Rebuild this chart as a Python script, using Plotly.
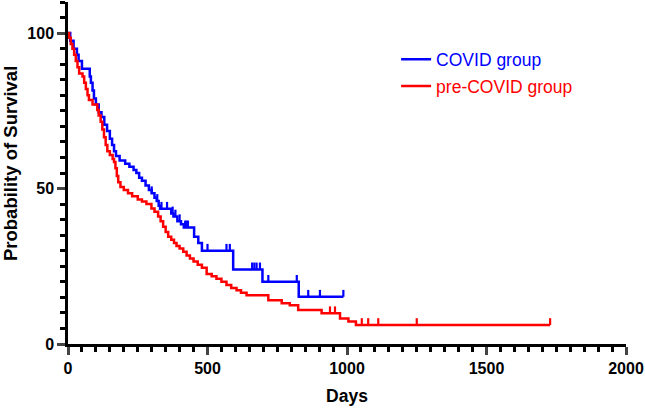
import plotly.graph_objects as go

# ---- data ----
covid_time = [0, 8, 20, 32, 38, 50, 78, 82, 88, 93, 100, 110, 120, 130, 140, 150, 158, 165, 172, 185,
              205, 220, 235, 245, 255, 265, 278, 290, 300, 310, 318, 325, 330, 370, 378, 392, 405, 415,
              452, 467, 480, 592, 697, 827]
covid_surv = [100, 97.5, 95, 93, 91, 88.5, 86, 84, 81.5, 79, 77, 74.5, 73, 70.5, 68.5, 66, 64, 62, 60.5, 59,
              58, 57, 56, 55, 53.5, 52.5, 51, 49.5, 48.5, 47, 46, 44.5, 43.5, 42, 41, 39.5, 38.5, 37.5,
              34.5, 32.5, 30, 24, 20, 15.2]
covid_end = 987
covid_censor = [300, 320, 335, 355, 375, 385, 400, 420, 425, 430, 500, 568, 580, 660, 668, 676, 688,
                718, 820, 861, 903, 987]

pre_time = [0, 4, 10, 16, 22, 28, 34, 40, 52, 58, 64, 70, 75, 88, 105, 110, 117, 123, 129, 135, 141, 150,
            160, 165, 170, 175, 180, 188, 200, 215, 230, 250, 265, 281, 299, 310, 323, 332, 341, 350, 359,
            370, 380, 389, 400, 413, 425, 437, 450, 465, 480, 497, 515, 532, 550, 568, 585, 604, 620, 640,
            718, 766, 795, 825, 909, 975, 1005, 1032]
pre_surv = [100, 98.5, 96.5, 95, 93, 91, 89, 87, 86, 84, 82, 80, 78.5, 77, 75.3, 73.5, 71.5, 69, 66.5, 64,
            62, 60.8, 59.5, 58.5, 56.5, 54, 52, 50.5, 49.5, 48.5, 47.5, 46.5, 45.8, 45, 43.6, 42.5, 41, 39.5,
            37.7, 36, 34.5, 33.5, 32.5, 31.5, 30.7, 29.7, 28.5, 27.5, 26.5, 25.5, 24.5, 22.5, 21.8, 21, 20,
            19, 18, 17.3, 16.5, 15.7, 14.1, 13.1, 12.5, 10.9, 9.9, 8.2, 7.2, 6.1]
pre_end = 1728
pre_censor = [939, 957, 1053, 1076, 1112, 1250, 1728]

x_ticks = [0, 500, 1000, 1500, 2000]
y_ticks = [0, 50, 100]

BLUE = "#0000FF"
RED = "#FF0000"
FONT = "Arial, Liberation Sans, sans-serif"


def surv_at(times, surv, t):
    v = surv[0]
    for ti, si in zip(times, surv):
        if ti <= t:
            v = si
    return v


fig = go.Figure()


def add_group(name, times, surv, end, censor, color):
    fig.add_trace(go.Scatter(
        x=times + [end], y=surv + [surv[-1]], mode="lines", line=dict(color=color, width=2.5, shape="hv"),
        name=f"<span style='color:{color}'>{name}</span>", legendgroup=name, hoverinfo="skip"))
    cy = [surv_at(times, surv, t) for t in censor]
    fig.add_trace(go.Scatter(
        x=censor, y=cy, mode="markers", marker=dict(size=1, color=color, opacity=0),
        error_y=dict(type="constant", symmetric=False, value=2.2, valueminus=0, color=color,
                     thickness=2.2, width=0),
        showlegend=False, legendgroup=name, hoverinfo="skip"))


add_group("COVID group", covid_time, covid_surv, covid_end, covid_censor, BLUE)
add_group("pre-COVID group", pre_time, pre_surv, pre_end, pre_censor, RED)

fig.update_layout(
    width=645, height=408,
    margin=dict(l=68, r=19, t=2, b=64),
    paper_bgcolor="white", plot_bgcolor="white",
    font=dict(family=FONT, color="black"),
    showlegend=True,
    legend=dict(x=0.588, y=0.885, xanchor="left", yanchor="top", bgcolor="rgba(0,0,0,0)",
                font=dict(size=17.5, family=FONT), traceorder="grouped", tracegroupgap=1),
    xaxis=dict(range=[0, 2000], tickvals=x_ticks, ticks="outside", ticklen=8, tickwidth=2.5,
               showline=True, linewidth=2.5, linecolor="black", showgrid=False, zeroline=False,
               tickfont=dict(size=16, family=FONT, weight="bold"),
               minor=dict(dtick=50, ticks="outside", ticklen=5, tickwidth=2.5, tickcolor="black", showgrid=False),
               title=dict(text="<b>Days</b>", font=dict(size=17.5, family=FONT), standoff=14)),
    yaxis=dict(range=[0, 110], tickvals=y_ticks, ticks="outside", ticklen=8, tickwidth=2.5,
               showline=True, linewidth=2.5, linecolor="black", showgrid=False, zeroline=False,
               tickfont=dict(size=16, family=FONT, weight="bold"),
               minor=dict(dtick=5, ticks="outside", ticklen=5, tickwidth=2.5, tickcolor="black", showgrid=False)),
    annotations=[dict(text="<b>Probability of Survival</b>", textangle=-90, showarrow=False,
                      xref="paper", yref="paper", x=-0.104, y=0.529, xanchor="center", yanchor="middle",
                      font=dict(size=18.5, family=FONT, color="black"))],
)

fig.write_html("out.html", post_script="document.body.style.margin='0';",
               config={"displayModeBar": False})
